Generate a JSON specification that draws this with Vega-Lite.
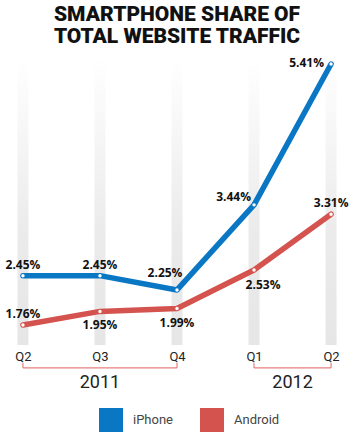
{
  "$schema": "https://vega.github.io/schema/vega-lite/v6.json",
  "width": 354,
  "height": 287,
  "autosize": "none",
  "padding": {"left": 0, "right": 0, "top": 58, "bottom": 92},
  "background": "white",
  "config": {"view": {"stroke": null}},
  "title": {
    "text": ["SMARTPHONE SHARE OF", "TOTAL WEBSITE TRAFFIC"],
    "font": "Roboto, sans-serif",
    "fontWeight": 900,
    "fontSize": 21,
    "lineHeight": 22,
    "color": "#111111",
    "anchor": "middle",
    "frame": "group",
    "offset": 10
  },
  "datasets": {
    "traffic": [
      {"q": 0, "period": "Q2 2011", "series": "iPhone", "value": 2.45, "label": "2.45%"},
      {"q": 1, "period": "Q3 2011", "series": "iPhone", "value": 2.45, "label": "2.45%"},
      {"q": 2, "period": "Q4 2011", "series": "iPhone", "value": 2.25, "label": "2.25%"},
      {"q": 3, "period": "Q1 2012", "series": "iPhone", "value": 3.44, "label": "3.44%"},
      {"q": 4, "period": "Q2 2012", "series": "iPhone", "value": 5.41, "label": "5.41%"},
      {"q": 0, "period": "Q2 2011", "series": "Android", "value": 1.76, "label": "1.76%"},
      {"q": 1, "period": "Q3 2011", "series": "Android", "value": 1.95, "label": "1.95%"},
      {"q": 2, "period": "Q4 2011", "series": "Android", "value": 1.99, "label": "1.99%"},
      {"q": 3, "period": "Q1 2012", "series": "Android", "value": 2.53, "label": "2.53%"},
      {"q": 4, "period": "Q2 2012", "series": "Android", "value": 3.31, "label": "3.31%"}
    ],
    "quarters": [{"q": 0}, {"q": 1}, {"q": 2}, {"q": 3}, {"q": 4}],
    "years": [
      {"q": 0, "q2": 2, "mid": 1, "year": "2011"},
      {"q": 3, "q2": 4, "mid": 3.5, "year": "2012"}
    ],
    "bracketEnds": [{"q": 0}, {"q": 2}, {"q": 3}, {"q": 4}]
  },
  "layer": [
    {
      "data": {"name": "quarters"},
      "mark": {
        "type": "bar",
        "orient": "vertical",
        "size": 11,
        "color": {
          "gradient": "linear",
          "x1": 0, "y1": 0, "x2": 0, "y2": 1,
          "stops": [
            {"offset": 0, "color": "#ffffff"},
            {"offset": 0.6, "color": "#ebebeb"},
            {"offset": 1, "color": "#e6e6e6"}
          ]
        }
      },
      "encoding": {
        "x": {
          "field": "q", "type": "quantitative",
          "scale": {"domain": [-0.233, 4.233], "nice": false, "zero": false},
          "axis": {
            "values": [0, 1, 2, 3, 4],
            "labelExpr": "['Q2','Q3','Q4','Q1','Q2'][datum.value]",
            "title": null, "grid": false, "domain": false, "ticks": false,
            "labelPadding": 5,
            "labelFont": "Roboto, sans-serif",
            "labelFontSize": 13,
            "labelColor": "#222222",
            "labelFlush": false
          }
        },
        "y": {"datum": 5.494, "type": "quantitative",
              "scale": {"domain": [1.48, 5.494], "nice": false, "zero": false},
              "axis": null},
        "y2": {"datum": 1.48}
      }
    },
    {
      "data": {"name": "traffic"},
      "mark": {"type": "line", "strokeWidth": 5.5, "strokeCap": "round", "strokeJoin": "round"},
      "encoding": {
        "x": {"field": "q", "type": "quantitative"},
        "y": {"field": "value", "type": "quantitative"},
        "color": {
          "field": "series", "type": "nominal",
          "scale": {"domain": ["iPhone", "Android"], "range": ["#0a77c5", "#d4534f"]},
          "legend": {
            "title": null,
            "orient": "none",
            "legendX": 99,
            "legendY": 350,
            "direction": "horizontal",
            "symbolType": "square",
            "symbolSize": 576,
            "symbolStrokeWidth": 0,
            "labelFont": "Roboto, sans-serif",
            "labelFontSize": 13,
            "labelColor": "#444444",
            "labelOffset": 10,
            "columnPadding": 26,
            "encode": {
              "symbols": {"update": {"fill": {"scale": "color", "field": "value"}, "strokeWidth": {"value": 0}, "opacity": {"value": 1}}}
            }
          }
        }
      }
    },
    {
      "data": {"name": "traffic"},
      "mark": {"type": "point", "filled": true, "color": "white", "opacity": 1, "size": 12},
      "encoding": {
        "x": {"field": "q", "type": "quantitative"},
        "y": {"field": "value", "type": "quantitative"}
      }
    },
    {
      "data": {"name": "traffic"},
      "transform": [{"filter": "(datum.series == 'iPhone' && datum.q <= 1) || (datum.series == 'Android' && (datum.q == 0 || datum.q == 4))"}],
      "mark": {"type": "text", "font": "Open Sans", "fontWeight": "bold", "fontSize": 12, "color": "#111111", "align": "center", "baseline": "middle", "dy": -11},
      "encoding": {
        "x": {"field": "q", "type": "quantitative"},
        "y": {"field": "value", "type": "quantitative"},
        "text": {"field": "label"}
      }
    },
    {
      "data": {"name": "traffic"},
      "transform": [{"filter": "datum.series == 'Android' && (datum.q == 1 || datum.q == 2)"}],
      "mark": {"type": "text", "font": "Open Sans", "fontWeight": "bold", "fontSize": 12, "color": "#111111", "align": "center", "baseline": "middle", "dy": 14},
      "encoding": {
        "x": {"field": "q", "type": "quantitative"},
        "y": {"field": "value", "type": "quantitative"},
        "text": {"field": "label"}
      }
    },
    {
      "data": {"name": "traffic"},
      "transform": [{"filter": "datum.series == 'Android' && datum.q == 3"}],
      "mark": {"type": "text", "font": "Open Sans", "fontWeight": "bold", "fontSize": 12, "color": "#111111", "align": "center", "baseline": "middle", "dx": 9, "dy": 15},
      "encoding": {
        "x": {"field": "q", "type": "quantitative"},
        "y": {"field": "value", "type": "quantitative"},
        "text": {"field": "label"}
      }
    },
    {
      "data": {"name": "traffic"},
      "transform": [{"filter": "datum.series == 'iPhone' && datum.q == 2"}],
      "mark": {"type": "text", "font": "Open Sans", "fontWeight": "bold", "fontSize": 12, "color": "#111111", "align": "center", "baseline": "middle", "dx": -12, "dy": -17},
      "encoding": {
        "x": {"field": "q", "type": "quantitative"},
        "y": {"field": "value", "type": "quantitative"},
        "text": {"field": "label"}
      }
    },
    {
      "data": {"name": "traffic"},
      "transform": [{"filter": "datum.series == 'iPhone' && datum.q == 3"}],
      "mark": {"type": "text", "font": "Open Sans", "fontWeight": "bold", "fontSize": 12, "color": "#111111", "align": "right", "baseline": "middle", "dx": -3, "dy": -8},
      "encoding": {
        "x": {"field": "q", "type": "quantitative"},
        "y": {"field": "value", "type": "quantitative"},
        "text": {"field": "label"}
      }
    },
    {
      "data": {"name": "traffic"},
      "transform": [{"filter": "datum.series == 'iPhone' && datum.q == 4"}],
      "mark": {"type": "text", "font": "Open Sans", "fontWeight": "bold", "fontSize": 12, "color": "#111111", "align": "right", "baseline": "middle", "dx": -7, "dy": -1},
      "encoding": {
        "x": {"field": "q", "type": "quantitative"},
        "y": {"field": "value", "type": "quantitative"},
        "text": {"field": "label"}
      }
    },
    {
      "data": {"name": "years"},
      "mark": {"type": "rule", "color": "#e4807f", "strokeWidth": 1.2},
      "encoding": {
        "x": {"field": "q", "type": "quantitative"},
        "x2": {"field": "q2"},
        "y": {"datum": 1.159, "type": "quantitative"}
      }
    },
    {
      "data": {"name": "bracketEnds"},
      "mark": {"type": "rule", "color": "#e4807f", "strokeWidth": 1.2},
      "encoding": {
        "x": {"field": "q", "type": "quantitative"},
        "y": {"datum": 1.159, "type": "quantitative"},
        "y2": {"datum": 1.229}
      }
    },
    {
      "data": {"name": "years"},
      "mark": {"type": "text", "font": "Roboto, sans-serif", "fontSize": 18, "color": "#222222", "align": "center", "baseline": "middle"},
      "encoding": {
        "x": {"field": "mid", "type": "quantitative"},
        "y": {"datum": 0.949, "type": "quantitative"},
        "text": {"field": "year"}
      }
    }
  ]
}
